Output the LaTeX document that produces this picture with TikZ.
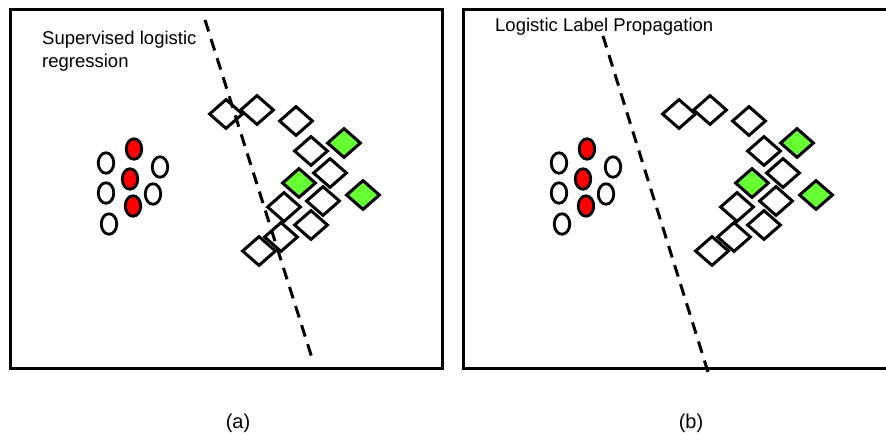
\documentclass[tikz,border=0pt]{standalone}
\usepackage{fontspec}
\setmainfont{Liberation Sans}
\usetikzlibrary{shapes.geometric}
\definecolor{ptred}{RGB}{255,0,0}
\definecolor{ptgreen}{RGB}{102,255,51}
\tikzset{
  frame/.style={line width=3pt},
  boundary/.style={line width=3pt, dash pattern=on 12pt off 8pt},
  pt/.style={ellipse, draw, line width=2.8pt, minimum width=15.5pt, minimum height=20.5pt, inner sep=0pt, fill=white},
  redpt/.style={pt, fill=ptred},
  sq/.style={diamond, draw, line width=3pt, minimum width=34pt, minimum height=30pt, inner sep=0pt, fill=white},
  greensq/.style={sq, fill=ptgreen},
  lbl/.style={font=\fontsize{18.5}{23}\selectfont, inner sep=0pt},
  captext/.style={font=\fontsize{20}{24}\selectfont, inner sep=0pt}
}
% one panel: circle class on the left, diamond class on the right
\newcommand{\pointcloud}[1]{%
  \node[pt]    (#1w1) at (106,163) {};
  \node[pt]    (#1w2) at (160,167) {};
  \node[pt]    (#1w3) at (106,193) {};
  \node[pt]    (#1w4) at (153,194) {};
  \node[pt]    (#1w5) at (109,224) {};
  \node[redpt] (#1r1) at (134,149) {};
  \node[redpt] (#1r2) at (130,179) {};
  \node[redpt] (#1r3) at (133,206) {};
  \node[sq]      (#1d1)  at (226,114) {};
  \node[sq]      (#1d2)  at (257,110) {};
  \node[sq]      (#1d3)  at (296,121) {};
  \node[sq]      (#1d4)  at (311,151) {};
  \node[greensq] (#1g1)  at (344,143) {};
  \node[sq]      (#1d6)  at (330,173) {};
  \node[greensq] (#1g2)  at (299,183) {};
  \node[greensq] (#1g3)  at (363,195) {};
  \node[sq]      (#1d9)  at (284,207) {};
  \node[sq]      (#1d10) at (323,201) {};
  \node[sq]      (#1d11) at (311,225) {};
  \node[sq]      (#1d12) at (281,237) {};
  \node[sq]      (#1d13) at (259,251) {};
}
\begin{document}
\begin{tikzpicture}[x=1pt,y=-1pt]
\useasboundingbox (0,0) rectangle (886,436);
\clip (0,0) rectangle (886,436);

% panel (a): supervised logistic regression
\draw[frame] (10,10) rectangle (442,368);
\pointcloud{a}
\coordinate (aTop) at (205,20);
\coordinate (aBot) at (312,358);
\draw[boundary] (aTop) -- (aBot);
\node[lbl, anchor=base west, align=left] (aLabel) at (42,67)
  {Supervised logistic\\regression};
\node[captext] (aCap) at (238,423) {(a)};

% panel (b): logistic label propagation
\draw[frame] (463,10) rectangle (900,368);
\begin{scope}[xshift=453pt]
  \pointcloud{b}
\end{scope}
\coordinate (bTop) at (603,36);
\coordinate (bBot) at (708,372);
\draw[boundary] (bTop) -- (bBot);
\node[lbl, anchor=base west] (bLabel) at (495,32) {Logistic Label Propagation};
\node[captext] (bCap) at (691,423) {(b)};
\end{tikzpicture}
\end{document}
